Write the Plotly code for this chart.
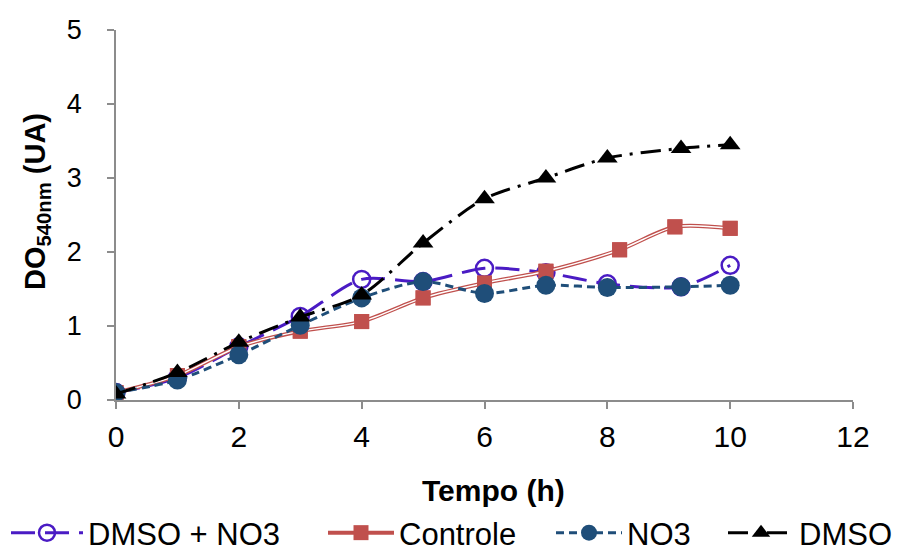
import plotly.graph_objects as go

# Sampling times (h) and optical density readings (DO 540 nm, UA)
t_main = [0, 1, 2, 3, 4, 5, 6, 7, 8, 9.2, 10]
t_controle = [0, 1, 2, 3, 4, 5, 6, 7, 8.2, 9.1, 10]

do_dmso_no3 = [0.10, 0.30, 0.72, 1.13, 1.63, 1.60, 1.78, 1.72, 1.57, 1.53, 1.82]
do_controle = [0.10, 0.33, 0.72, 0.93, 1.06, 1.38, 1.58, 1.74, 2.03, 2.34, 2.32]
do_no3 = [0.10, 0.27, 0.61, 1.01, 1.38, 1.60, 1.44, 1.55, 1.52, 1.53, 1.55]
do_dmso = [0.08, 0.37, 0.78, 1.12, 1.42, 2.12, 2.72, 3.00, 3.27, 3.40, 3.45]

x_ticks = [0, 2, 4, 6, 8, 10, 12]
y_ticks = [0, 1, 2, 3, 4, 5]

FONT = "Liberation Sans, Arial, sans-serif"
PURPLE = "#4A1BC4"
RED = "#C0504D"
NAVY = "#1F4E79"
AXIS_GRAY = "#8C8C8C"

W, H = 897, 551

fig = go.Figure()

fig.add_trace(go.Scatter(
    x=t_main, y=do_dmso_no3, name="DMSO + NO3", legend="legend",
    mode="lines+markers", line_shape="spline",
    line=dict(color=PURPLE, width=3, dash="24px,10px", smoothing=0.8),
    marker=dict(symbol="circle-open", size=17, color=PURPLE, line=dict(width=2.5, color=PURPLE)),
))

# Controle: double red line with white core, squares on top
fig.add_trace(go.Scatter(
    x=t_controle, y=do_controle, name="Controle", legend="legend2",
    mode="lines+markers", line_shape="spline",
    line=dict(color=RED, width=4, smoothing=0.8),
    marker=dict(symbol="square", size=15, color=RED),
))
fig.add_trace(go.Scatter(
    x=t_controle, y=do_controle, showlegend=False, hoverinfo="skip",
    mode="lines", line_shape="spline",
    line=dict(color="white", width=1.4, smoothing=0.8),
))
fig.add_trace(go.Scatter(
    x=t_controle, y=do_controle, showlegend=False,
    mode="markers", marker=dict(symbol="square", size=15, color=RED),
))

fig.add_trace(go.Scatter(
    x=t_main, y=do_no3, name="NO3", legend="legend3",
    mode="lines+markers", line_shape="spline",
    line=dict(color=NAVY, width=3, dash="8px,5px", smoothing=0.8),
    marker=dict(symbol="circle", size=19, color=NAVY),
))

fig.add_trace(go.Scatter(
    x=t_main, y=do_dmso, name="DMSO", legend="legend4",
    mode="lines+markers", line_shape="spline",
    line=dict(color="black", width=3, dash="20px,8px,3px,8px", smoothing=0.8),
    marker=dict(symbol="triangle-up", size=18, color="black"),
))


def legend_at(px_left, item_w, entry_w):
    return dict(
        orientation="h", xref="container", yref="container",
        x=px_left / W, xanchor="left", y=(H - 533) / H, yanchor="middle",
        font=dict(family=FONT, size=31, color="black"),
        itemwidth=item_w, entrywidth=entry_w, entrywidthmode="pixels",
        bgcolor="rgba(0,0,0,0)",
    )


fig.update_layout(
    width=W, height=H,
    margin=dict(l=116, r=44, t=30, b=151),
    paper_bgcolor="white", plot_bgcolor="white",
    font=dict(family=FONT, size=26, color="black"),
    legend=legend_at(6, 72, 200),
    legend2=legend_at(323, 66, 130),
    legend3=legend_at(551, 66, 75),
    legend4=legend_at(723, 66, 100),
    xaxis=dict(
        range=[0, 12], tickvals=x_ticks, ticktext=[str(v) for v in x_ticks],
        showgrid=False, zeroline=False, automargin=False,
        showline=True, linecolor=AXIS_GRAY, linewidth=1.5,
        ticks="outside", ticklen=7, tickcolor=AXIS_GRAY, tickwidth=1.5,
        ticklabelstandoff=2,
        tickfont=dict(family=FONT, size=30),
    ),
    yaxis=dict(
        range=[0, 5], tickvals=y_ticks, ticktext=[str(v) for v in y_ticks],
        showgrid=False, zeroline=False, automargin=False,
        showline=True, linecolor=AXIS_GRAY, linewidth=1.5,
        ticks="outside", ticklen=7, tickcolor=AXIS_GRAY, tickwidth=1.5,
        ticklabelstandoff=20,
        tickfont=dict(family=FONT, size=27),
    ),
    annotations=[
        dict(text="<b>Tempo (h)</b>", xref="paper", yref="paper",
             x=(493 - 116) / 737, y=(400 - 490) / 370,
             xanchor="center", yanchor="middle", showarrow=False,
             font=dict(family=FONT, size=30, color="black")),
        dict(text="<b>DO<sub>540nm</sub> (UA)</b>", xref="paper", yref="paper",
             x=0, xshift=-79, y=(400 - 202) / 370, textangle=-90,
             xanchor="center", yanchor="middle", showarrow=False,
             font=dict(family=FONT, size=29, color="black")),
    ],
)

fig.write_html("out.html")
